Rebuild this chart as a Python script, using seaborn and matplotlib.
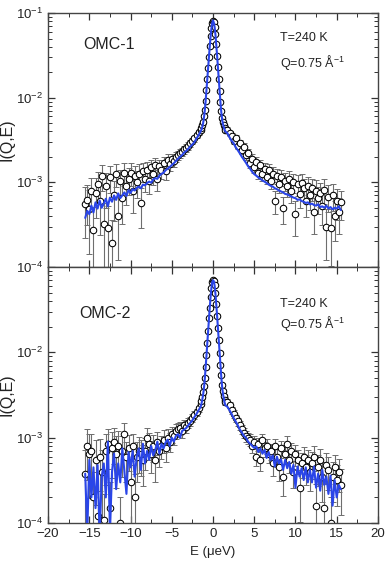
import numpy as np
import pandas as pd
import matplotlib
matplotlib.use('Agg')
import matplotlib.pyplot as plt
import seaborn as sns
from matplotlib.ticker import MultipleLocator, LogLocator, NullFormatter

# energy bins (µeV): coarse in the tails, fine across the elastic peak
E = np.round(np.concatenate([np.arange(-15.5, -1.6, 0.25),
                             np.arange(-1.5, 1.55, 0.1),
                             np.arange(1.75, 15.6, 0.25)]), 2)

# all intensities below in units of 1e-4
# ---- OMC-1 ----
omc1_data = [
    5.5, 6.2, 4.8, 8.0, 2.7, 7.5, 9.5, 6.0, 12.0, 3.2,
    9.0, 2.9, 11.5, 1.9, 7.0, 12.5, 4.0, 10.5, 6.5, 13.0,
    9.0, 11.0, 13.0, 8.0, 12.0, 10.0, 12.5, 5.7, 13.5, 11.0,
    14.0, 10.5, 15.0, 12.5, 16.0, 11.0, 15.5, 14.0, 17.0, 13.5,
    18.5, 16.5, 19.0, 18.0, 20.0, 21.0, 22.0, 23.0, 24.5, 25.5,
    27.0, 29.0, 31.0, 33.0, 36.0, 39.0,
    42, 44, 47, 52, 60, 72, 92, 122, 165, 225, 305, 410, 530, 660, 770, 810,
    780, 690, 560, 430, 315, 230, 165, 120, 90, 70, 58, 51, 47, 44, 42,
    42, 38, 35, 31, 33, 27, 29, 24, 26, 21,
    22, 17, 19, 15, 17.5, 13, 16, 12.5, 14.5, 11.5,
    14, 10.5, 12.5, 6.0, 12, 9.5, 11.5, 5.0, 10.5, 9.0,
    11, 8.0, 10, 4.2, 9.5, 7.2, 9.8, 8.5, 6.0, 9.0,
    7.0, 8.5, 4.5, 8.0, 6.5, 7.5, 5.2, 8.2, 3.0, 6.8,
    2.9, 7.0, 4.0, 6.0, 4.5, 5.8,
]
omc1_relerr = [
    .6, .5, .7, .4, .9, .5, .4, .6, .35, .8,
    .45, .8, .35, .9, .5, .3, .7, .35, .5, .3,
    .4, .35, .3, .45, .3, .35, .3, .5, .25, .3,
    .25, .3, .22, .25, .2, .28, .2, .22, .18, .22,
    .16, .18, .15, .15, .14, .13, .12, .12, .11, .1,
    .1, .09, .08, .08, .07, .07,
    .06, .06, .05, .05, .05, .04, .04, .03, .03, .03, .03, .02, .02, .02, .02, .02,
    .02, .02, .02, .02, .03, .03, .03, .03, .04, .04, .05, .05, .05, .06, .06,
    .07, .07, .08, .08, .09, .09, .1, .1, .11, .12,
    .12, .13, .13, .14, .15, .15, .16, .16, .17, .18,
    .18, .2, .2, .3, .2, .22, .22, .35, .24, .25,
    .25, .28, .26, .45, .27, .3, .28, .3, .35, .3,
    .32, .3, .45, .33, .35, .32, .4, .33, .6, .35,
    .65, .35, .5, .4, .45, .38,
]
omc1_fit = [
    3.8, 4.6, 4.2, 5.3, 4.4, 5.8, 4.9, 6.1, 5.0, 5.6,
    6.4, 5.2, 6.6, 5.9, 7.0, 6.2, 7.4, 6.5, 7.0, 7.6,
    6.9, 8.1, 7.5, 8.3, 8.0, 8.6, 8.9, 8.5, 9.4, 9.2,
    9.8, 10.2, 9.9, 10.8, 11.2, 11.0, 12.0, 12.6, 13.0, 13.9,
    14.5, 15.2, 16.0, 16.8, 17.9, 19.0, 20.0, 21.0, 22.5, 23.5,
    25.0, 26.5, 28.0, 30.0, 33.0, 36.0,
    40, 42, 45, 50, 58, 70, 90, 120, 160, 220, 300, 400, 520, 650, 760, 820,
    770, 680, 550, 420, 310, 225, 160, 118, 88, 68, 56, 49, 45, 42, 40,
    38, 34, 31, 29, 26, 24, 22, 20, 18.5, 17,
    15.5, 14.5, 13.3, 12.5, 12.0, 11.4, 11.0, 10.5, 10.2, 9.8,
    9.4, 9.1, 8.9, 8.5, 8.3, 8.0, 7.8, 7.6, 7.3, 7.2,
    7.0, 6.8, 6.6, 6.5, 6.2, 6.3, 6.0, 5.9, 5.7, 5.8,
    5.5, 5.6, 5.4, 5.3, 5.5, 5.1, 5.2, 5.0, 5.3, 4.9,
    5.1, 4.8, 5.0, 4.9, 5.2, 4.7,
]

# ---- OMC-2 ----
omc2_data = [
    3.8, 8.0, 6.5, 7.0, 2.0, 5.5, 1.2, 6.0, 4.0, 1.1,
    7.0, 8.5, 1.5, 7.5, 9.0, 6.5, 8.0, 1.0, 7.0, 11.0,
    6.0, 7.5, 3.0, 8.0, 2.0, 6.0, 7.0, 6.5, 5.5, 7.0,
    10.0, 8.5, 6.5, 8.0, 5.5, 9.0, 7.0, 8.0, 9.5, 7.5,
    10.0, 9.0, 11.0, 10.5, 12.0, 12.5, 13.0, 12.0, 14.0, 13.5,
    15.0, 15.5, 17.0, 18.5, 20.0, 22.0,
    25, 27, 30, 34, 40, 50, 67, 92, 128, 178, 250, 335, 450, 570, 670, 710,
    690, 610, 490, 370, 270, 195, 138, 99, 72, 54, 42, 35, 31, 28, 26,
    26, 24, 21, 19, 17, 15.5, 14, 12.5, 11.5, 10.5,
    10, 9.5, 8.0, 9.0, 6.0, 8.5, 5.5, 9.5, 7.5, 8.0,
    6.5, 7.0, 5.0, 8.0, 6.0, 4.5, 7.5, 3.5, 6.5, 8.5,
    5.5, 7.0, 4.0, 6.5, 5.5, 2.6, 5.0, 6.0, 4.5, 5.5,
    4.0, 5.0, 6.0, 1.6, 4.5, 5.5, 3.5, 1.5, 4.8, 4.2,
    1.0, 3.5, 4.6, 3.2, 4.0, 2.8,
]
omc2_relerr = [
    .9, .6, .7, .6, 1.0, .7, 1.0, .6, .8, 1.0,
    .6, .5, 1.0, .55, .45, .6, .5, 1.0, .5, .35,
    .5, .45, .8, .4, .9, .5, .45, .45, .5, .4,
    .3, .35, .4, .35, .45, .3, .35, .3, .3, .3,
    .25, .25, .22, .22, .2, .18, .17, .17, .15, .15,
    .13, .12, .11, .1, .09, .08,
    .07, .07, .06, .06, .05, .05, .04, .04, .03, .03, .03, .02, .02, .02, .02, .02,
    .02, .02, .02, .02, .03, .03, .03, .04, .04, .05, .05, .06, .06, .07, .07,
    .08, .08, .09, .1, .1, .11, .12, .12, .13, .14,
    .15, .15, .17, .16, .22, .17, .25, .17, .2, .2,
    .22, .22, .28, .2, .25, .3, .22, .4, .25, .22,
    .3, .25, .35, .28, .32, .6, .32, .3, .38, .32,
    .4, .35, .32, .8, .4, .35, .5, .9, .38, .42,
    1.0, .5, .38, .5, .42, .55,
]
omc2_fit = [
    3.8, 0.8, 5.5, 2.0, 4.5, 1.5, 4.8, 0.7, 3.5, 5.0,
    2.0, 9.0, 0.8, 4.0, 6.5, 2.5, 5.0, 3.0, 7.5, 4.0,
    2.2, 6.8, 4.5, 7.0, 3.5, 6.0, 7.5, 4.2, 8.5, 5.0,
    7.0, 5.5, 8.0, 6.2, 7.2, 9.0, 6.5, 8.5, 7.5, 8.8,
    9.5, 8.0, 10.0, 9.0, 10.5, 11.0, 10.0, 12.0, 12.5, 13.0,
    14.0, 15.0, 16.0, 17.5, 19.0, 21.0,
    23, 25, 28, 32, 38, 48, 65, 90, 125, 175, 245, 330, 440, 560, 660, 700,
    680, 600, 480, 360, 265, 190, 135, 97, 70, 52, 40, 33, 29, 26, 24,
    23, 21, 19, 17, 15.5, 14, 12.5, 11.5, 10.5, 10,
    9.0, 8.5, 8.0, 7.6, 7.9, 6.8, 7.5, 6.5, 7.2, 5.8,
    6.8, 5.5, 6.2, 4.6, 6.0, 5.0, 5.6, 4.2, 5.5, 4.4,
    5.2, 3.8, 4.8, 2.6, 4.6, 3.5, 4.4, 3.2, 4.5, 3.0,
    4.2, 3.0, 4.6, 2.6, 3.8, 2.4, 4.2, 2.8, 3.5, 2.2,
    3.6, 1.6, 3.2, 2.0, 2.8, 2.5,
]

panels = [
    ('OMC-1', omc1_data, omc1_relerr, omc1_fit),
    ('OMC-2', omc2_data, omc2_relerr, omc2_fit),
]

sns.set_theme(style='ticks')
plt.rcParams['font.family'] = ['Liberation Sans', 'DejaVu Sans']
plt.rcParams['mathtext.default'] = 'regular'

fig = plt.figure(figsize=(3.88, 5.68), dpi=100)
ax1 = fig.add_axes([0.124, 0.530, 0.850, 0.447])
ax2 = fig.add_axes([0.124, 0.079, 0.850, 0.451])
axes = [ax1, ax2]

blue = '#2a45e8'
text_pos = [(0.106, 0.878, 0.90, 0.807), (0.094, 0.82, 0.855, 0.78)]

for ax, (name, dat, rel, fit), tp in zip(axes, panels, text_pos):
    df = pd.DataFrame({'E': E,
                       'I': np.array(dat) * 1e-4,
                       'fit': np.array(fit) * 1e-4})
    df['err'] = df['I'] * np.array(rel)
    ax.errorbar(df['E'], df['I'], yerr=df['err'], fmt='none', ecolor='#6e6e6e',
                elinewidth=0.8, capsize=2.0, capthick=0.7, zorder=1)
    sns.scatterplot(data=df, x='E', y='I', ax=ax, marker='o', s=22,
                    facecolor='white', edgecolor='black', linewidth=0.75, zorder=2)
    sns.lineplot(data=df, x='E', y='fit', ax=ax, color=blue, lw=1.5,
                 sort=False, estimator=None, zorder=3)

    ax.set_yscale('log')
    ax.set_ylim(1e-4, 1e-1)
    ax.set_xlim(-20, 20)
    ax.xaxis.set_major_locator(MultipleLocator(5))
    ax.xaxis.set_minor_locator(MultipleLocator(2.5))
    ax.yaxis.set_major_locator(LogLocator(base=10))
    ax.yaxis.set_minor_locator(LogLocator(base=10, subs=np.arange(2, 10)))
    ax.yaxis.set_minor_formatter(NullFormatter())
    ax.tick_params(which='both', direction='in', top=True, right=True,
                   color='#333333', labelsize=9.5, labelcolor='#222222')
    ax.tick_params(which='major', length=5, width=0.9)
    ax.tick_params(which='minor', length=3, width=0.7)
    for sp in ax.spines.values():
        sp.set_color('#444444')
        sp.set_linewidth(1.0)
    ax.set_ylabel('I(Q,E)', fontsize=11.5, color='#222222', labelpad=1)
    ax.set_xlabel('')

    ax.text(tp[0], tp[1], name, transform=ax.transAxes, fontsize=11.5,
            va='center', ha='left', color='#222222')
    ax.text(0.703, tp[2], 'T=240 K', transform=ax.transAxes, fontsize=9,
            va='center', ha='left', color='#222222')
    ax.text(0.703, tp[3], 'Q=0.75 Å$^{-1}$', transform=ax.transAxes, fontsize=9,
            va='center', ha='left', color='#222222')

ax1.tick_params(labelbottom=False)
ax2.set_yticks([1e-4, 1e-3, 1e-2])
ax2.set_xlabel('E (μeV)', fontsize=9.5, color='#222222', labelpad=4)

fig.savefig('out.png', dpi=100)
